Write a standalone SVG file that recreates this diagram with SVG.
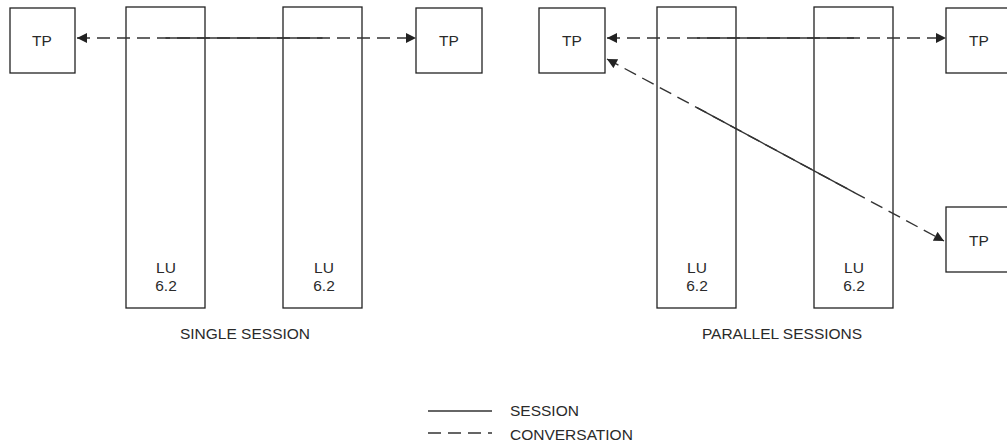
<svg xmlns="http://www.w3.org/2000/svg" width="1007" height="445" viewBox="0 0 1007 445">
  <style>
    .box { fill: #fff; stroke: #222; stroke-width: 1.3; }
    .lbl { font-family: "Liberation Sans", Arial, sans-serif; font-size: 15.5px; fill: #2a2a2a; text-anchor: middle; }
    .leg { font-family: "Liberation Sans", Arial, sans-serif; font-size: 15.5px; fill: #2a2a2a; }
    .session { stroke: #333; stroke-width: 1.4; fill: none; }
    .conv { stroke: #333; stroke-width: 1.4; fill: none; stroke-dasharray: 13 7; }
  </style>
  <defs>
    <marker id="arrow" viewBox="0 0 10 10" refX="10" refY="5" markerWidth="12" markerHeight="10" markerUnits="userSpaceOnUse" orient="auto-start-reverse">
      <path d="M0,0 L10,5 L0,10 Z" fill="#222"/>
    </marker>
  </defs>
  <rect width="1007" height="445" fill="#fff"/>

  <!-- single session -->
  <g id="lu-a1"><rect class="box" x="126" y="7" width="79" height="301"/><text class="lbl" x="166" y="273">LU</text><text class="lbl" x="166" y="291">6.2</text></g>
  <g id="lu-a2"><rect class="box" x="283" y="7" width="79" height="301"/><text class="lbl" x="324" y="273">LU</text><text class="lbl" x="324" y="291">6.2</text></g>
  <g id="tp-a1"><rect class="box" x="10" y="8" width="65" height="65"/><text class="lbl" x="42" y="46">TP</text></g>
  <g id="tp-a2"><rect class="box" x="416" y="8" width="66" height="65"/><text class="lbl" x="449" y="46">TP</text></g>

  <!-- parallel sessions -->
  <g id="lu-b1"><rect class="box" x="657" y="7" width="79" height="301"/><text class="lbl" x="697" y="273">LU</text><text class="lbl" x="697" y="291">6.2</text></g>
  <g id="lu-b2"><rect class="box" x="814" y="7" width="79" height="301"/><text class="lbl" x="854" y="273">LU</text><text class="lbl" x="854" y="291">6.2</text></g>
  <g id="tp-b1"><rect class="box" x="539" y="8" width="66" height="65"/><text class="lbl" x="572" y="46">TP</text></g>
  <g id="tp-b2"><rect class="box" x="946" y="8" width="66" height="65"/><text class="lbl" x="979" y="46">TP</text></g>
  <g id="tp-b3"><rect class="box" x="946" y="207" width="66" height="65"/><text class="lbl" x="979" y="246">TP</text></g>

  <g id="connectors">
    <line class="conv" x1="77" y1="38" x2="416" y2="38" marker-start="url(#arrow)" marker-end="url(#arrow)"/>
    <line class="session" x1="165.5" y1="38" x2="322.5" y2="38"/>
    <line class="conv" x1="607" y1="38" x2="946" y2="38" marker-start="url(#arrow)" marker-end="url(#arrow)"/>
    <line class="session" x1="697" y1="38" x2="854" y2="38"/>
    <line class="conv" x1="607" y1="59" x2="944" y2="241" marker-start="url(#arrow)" marker-end="url(#arrow)"/>
    <line class="session" x1="697" y1="107.6" x2="854" y2="192.4"/>
  </g>

  <text class="lbl" x="245" y="339">SINGLE SESSION</text>
  <text class="lbl" x="782" y="339">PARALLEL SESSIONS</text>

  <g id="legend">
    <line class="session" x1="428" y1="411" x2="492" y2="411"/>
    <line class="conv" x1="428" y1="433" x2="492" y2="433"/>
    <text class="leg" x="510" y="416">SESSION</text>
    <text class="leg" x="510" y="440">CONVERSATION</text>
  </g>
</svg>
